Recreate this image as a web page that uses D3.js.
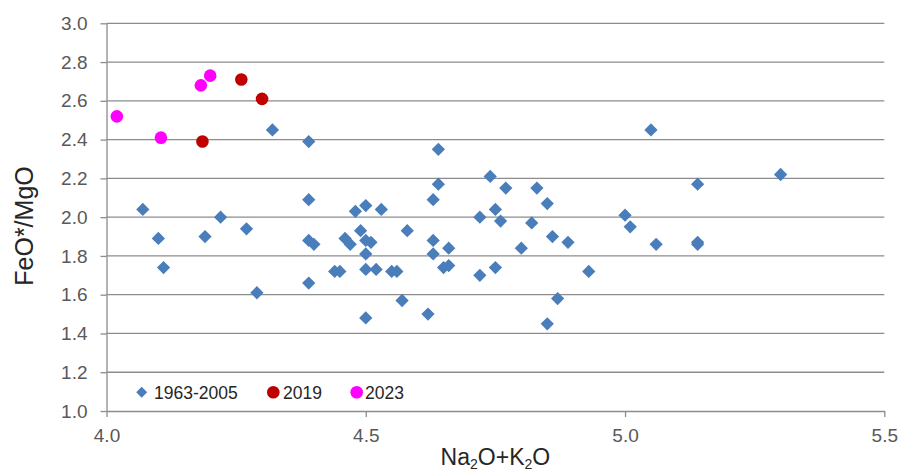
<!DOCTYPE html>
<html>
<head>
<meta charset="utf-8">
<script src="https://cdn.jsdelivr.net/npm/d3@7"></script>
<style>
  html, body { margin: 0; padding: 0; background: #fff; }
  svg { display: block; }
</style>
</head>
<body>
<svg id="chart" width="901" height="472"></svg>
<script>
// ---- Data ----
const xTicks = [4.0, 4.5, 5.0, 5.5];
const yTicks = [1.0, 1.2, 1.4, 1.6, 1.8, 2.0, 2.2, 2.4, 2.6, 2.8, 3.0];

const series1963Label = "1963-2005";
const series1963X = [4.07, 4.10, 4.11, 4.19, 4.22, 4.27, 4.29, 4.32, 4.39, 4.39,
                     4.39, 4.40, 4.39, 4.44, 4.45, 4.46, 4.47, 4.48, 4.49, 4.50,
                     4.50, 4.51, 4.50, 4.50, 4.52, 4.50, 4.53, 4.55, 4.56, 4.57,
                     4.58, 4.62, 4.63, 4.63, 4.63, 4.64, 4.64, 4.65, 4.66, 4.66,
                     4.72, 4.72, 4.74, 4.75, 4.75, 4.76, 4.77, 4.80, 4.82, 4.83,
                     4.85, 4.85, 4.86, 4.87, 4.89, 4.93, 5.00, 5.01, 5.05, 5.06,
                     5.14, 5.14, 5.14, 5.30];
const series1963Y = [2.04, 1.89, 1.74, 1.90, 2.00, 1.94, 1.61, 2.45, 2.39, 2.09,
                     1.88, 1.86, 1.66, 1.72, 1.72, 1.89, 1.86, 2.03, 1.93, 2.06,
                     1.88, 1.87, 1.81, 1.73, 1.73, 1.48, 2.04, 1.72, 1.72, 1.57,
                     1.93, 1.50, 2.09, 1.88, 1.81, 2.35, 2.17, 1.74, 1.75, 1.84,
                     2.00, 1.70, 2.21, 2.04, 1.74, 1.98, 2.15, 1.84, 1.97, 2.15,
                     2.07, 1.45, 1.90, 1.58, 1.87, 1.72, 2.01, 1.95, 2.45, 1.86,
                     2.17, 1.87, 1.86, 2.22];

const series2019Label = "2019";
const series2019X = [4.185, 4.26, 4.30];
const series2019Y = [2.39, 2.71, 2.61];

const series2023Label = "2023";
const series2023X = [4.02, 4.105, 4.182, 4.20];
const series2023Y = [2.52, 2.41, 2.68, 2.73];

// ---- Layout ----
const svg = d3.select("#chart");
const plotLeft = 106.5, plotRight = 884.3, plotTop = 23.3, plotBottom = 411;

const x = d3.scaleLinear().domain([4.0, 5.5]).range([plotLeft, plotRight]);
const y = d3.scaleLinear().domain([1.0, 3.0]).range([plotBottom, plotTop]);

const gridColor = "#8c8c8c";
const tickColor = "#595959";

// gridlines
svg.append("g").selectAll("line").data(yTicks.filter(d => d > 1.0)).join("line")
  .attr("x1", plotLeft).attr("x2", plotRight)
  .attr("y1", d => y(d)).attr("y2", d => y(d))
  .attr("stroke", gridColor).attr("stroke-width", 1.3);

// y axis
const yAxis = d3.axisLeft(y).tickValues(yTicks).tickFormat(d3.format(".1f")).tickSizeInner(6).tickSizeOuter(0).tickPadding(13);
const gy = svg.append("g").attr("transform", `translate(${plotLeft},0)`).call(yAxis);
gy.select(".domain").attr("stroke", gridColor).attr("stroke-width", 1.3);
gy.selectAll(".tick line").attr("stroke", gridColor).attr("stroke-width", 1.3);
gy.selectAll(".tick text").attr("fill", tickColor)
  .style("font-family", "'Liberation Sans', Arial, sans-serif").style("font-size", "19px");

// x axis
const xAxis = d3.axisBottom(x).tickValues(xTicks).tickFormat(d3.format(".1f")).tickSizeInner(6).tickSizeOuter(0).tickPadding(12);
const gx = svg.append("g").attr("transform", `translate(0,${plotBottom})`).call(xAxis);
gx.select(".domain").attr("stroke", gridColor).attr("stroke-width", 1.3);
gx.selectAll(".tick line").attr("stroke", gridColor).attr("stroke-width", 1.3);
gx.selectAll(".tick text").attr("fill", tickColor)
  .style("font-family", "'Liberation Sans', Arial, sans-serif").style("font-size", "19px");

// ---- Marks ----
const blue = "#4a7ebb", red = "#c00000", magenta = "#ff00ff";
const diamond = d3.symbol().type(d3.symbolSquare).size(88)();

const d1963 = series1963X.map((v, i) => ({x: v, y: series1963Y[i]}));
const d2019 = series2019X.map((v, i) => ({x: v, y: series2019Y[i]}));
const d2023 = series2023X.map((v, i) => ({x: v, y: series2023Y[i]}));

svg.append("g").selectAll("path").data(d1963).join("path")
  .attr("d", diamond)
  .attr("transform", d => `translate(${x(d.x)},${y(d.y)}) rotate(45)`)
  .attr("fill", blue);

svg.append("g").selectAll("circle").data(d2019).join("circle")
  .attr("cx", d => x(d.x)).attr("cy", d => y(d.y)).attr("r", 6.3)
  .attr("fill", red);

svg.append("g").selectAll("circle").data(d2023).join("circle")
  .attr("cx", d => x(d.x)).attr("cy", d => y(d.y)).attr("r", 6.3)
  .attr("fill", magenta);

// ---- Axis titles ----
const xt = svg.append("text")
  .attr("x", (plotLeft + plotRight) / 2).attr("y", 465)
  .attr("text-anchor", "middle")
  .attr("fill", "#262626")
  .style("font-family", "'Liberation Sans', Arial, sans-serif").style("font-size", "23px");
xt.append("tspan").text("Na");
xt.append("tspan").attr("dy", 4).style("font-size", "14px").text("2");
xt.append("tspan").attr("dy", -4).text("O+K");
xt.append("tspan").attr("dy", 4).style("font-size", "14px").text("2");
xt.append("tspan").attr("dy", -4).text("O");

svg.append("text")
  .attr("transform", "translate(33,226) rotate(-90)")
  .attr("text-anchor", "middle")
  .attr("fill", "#262626")
  .style("font-family", "'Liberation Sans', Arial, sans-serif").style("font-size", "25px")
  .text("FeO*/MgO");

// ---- Legend ----
const legend = svg.append("g").style("font-family", "'Liberation Sans', Arial, sans-serif").style("font-size", "17.5px");
const legendItems = [
  {label: series1963Label, color: blue, shape: "diamond", mx: 141.7, tx: 154},
  {label: series2019Label, color: red, shape: "circle", mx: 273.3, tx: 283},
  {label: series2023Label, color: magenta, shape: "circle", mx: 356.7, tx: 365}
];
const ly = 392.3;
legendItems.forEach(it => {
  if (it.shape === "diamond") {
    legend.append("path").attr("d", d3.symbol().type(d3.symbolSquare).size(60)())
      .attr("transform", `translate(${it.mx},${ly}) rotate(45)`).attr("fill", it.color);
  } else {
    legend.append("circle").attr("cx", it.mx).attr("cy", ly).attr("r", 6.3).attr("fill", it.color);
  }
  legend.append("text").attr("x", it.tx).attr("y", ly + 6.3).attr("fill", "#262626").text(it.label);
});
</script>
</body>
</html>
